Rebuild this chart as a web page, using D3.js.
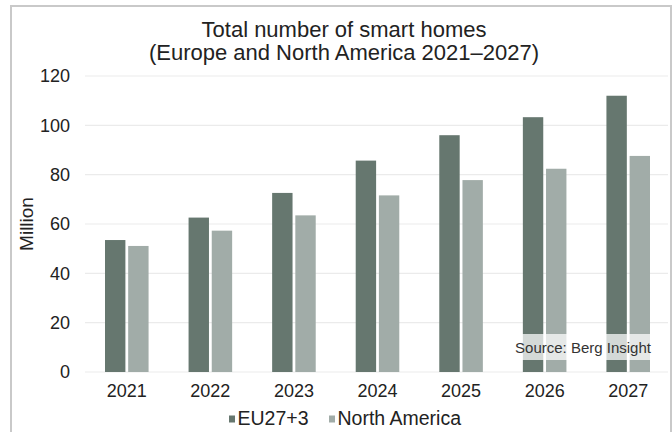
<!DOCTYPE html>
<html><head><meta charset="utf-8">
<script src="https://cdn.jsdelivr.net/npm/d3@7"></script>
<style>body{margin:0;background:#fff}svg{display:block}text{font-family:"Liberation Sans",Arial,sans-serif}</style>
</head><body><svg id="c" width="672" height="432"></svg>
<script>
const years = ["2021","2022","2023","2024","2025","2026","2027"];
const seriesNames = ["EU27+3","North America"];
const eu = [53.5, 62.6, 72.6, 85.7, 96.0, 103.3, 112.0];
const na = [51.1, 57.3, 63.5, 71.6, 77.8, 82.4, 87.6];
const yTicks = [0,20,40,60,80,100,120];
const colors = ["#66776f","#a1aca8"];

const svg = d3.select("#c");
svg.append("rect").attr("x",11).attr("y",6).attr("width",660).attr("height",440)
  .attr("fill","#fff").attr("stroke","#c9c9c9").attr("stroke-width",2);

const x = d3.scaleBand().domain(years).range([85,670]).paddingInner(0).paddingOuter(0);
const xs = d3.scaleBand().domain(seriesNames).range([20, x.bandwidth()-20]).paddingInner(0.12);
const y = d3.scaleLinear().domain([0,120]).range([372,76]);

// gridlines
svg.append("g").selectAll("line").data(yTicks).join("line")
  .attr("x1",85).attr("x2",668).attr("y1",d=>y(d)).attr("y2",d=>y(d))
  .attr("stroke","#ebebeb").attr("stroke-width",1.2);

// y axis labels
const ya = svg.append("g").attr("transform","translate(85,0)")
  .call(d3.axisLeft(y).tickValues(yTicks).tickSize(0).tickPadding(15));
ya.select(".domain").remove();
ya.selectAll("text").attr("font-size",18).attr("fill","#222").style("font-family","Liberation Sans");

// bars
const data = years.map((yr,i)=>({yr, vals:[{s:seriesNames[0],v:eu[i]},{s:seriesNames[1],v:na[i]}]}));
svg.append("g").selectAll("g").data(data).join("g")
  .attr("transform",d=>`translate(${x(d.yr)},0)`)
  .selectAll("rect").data(d=>d.vals).join("rect")
  .attr("x",d=>xs(d.s)).attr("width",xs.bandwidth())
  .attr("y",d=>y(d.v)).attr("height",d=>y(0)-y(d.v))
  .attr("fill",(d,i)=>colors[i]);

// x axis labels
const xa = svg.append("g").attr("transform","translate(0,372)")
  .call(d3.axisBottom(x).tickSize(0).tickPadding(12));
xa.select(".domain").remove();
xa.selectAll("text").attr("font-size",18).attr("fill","#222").style("font-family","Liberation Sans");

// source box
svg.append("rect").attr("x",508).attr("y",334).attr("width",152).attr("height",26)
  .attr("fill","#fff").attr("opacity",0.72);
svg.append("text").attr("x",583).attr("y",352.5).attr("text-anchor","middle")
  .attr("font-size",15).attr("fill","#333").text("Source: Berg Insight");

// title
svg.append("text").attr("x",344).attr("y",37).attr("text-anchor","middle")
  .attr("font-size",22).attr("fill","#222").text("Total number of smart homes");
svg.append("text").attr("x",344).attr("y",60).attr("text-anchor","middle")
  .attr("font-size",22).attr("fill","#222").text("(Europe and North America 2021–2027)");

// y title
svg.append("text").attr("transform","translate(33,224) rotate(-90)").attr("text-anchor","middle")
  .attr("font-size",19).attr("fill","#222").text("Million");

// legend
const leg = svg.append("g").attr("transform","translate(229,0)");
const items = [{n:seriesNames[0],c:colors[0],x:0},{n:seriesNames[1],c:colors[1],x:100}];
items.forEach(it=>{
  leg.append("rect").attr("x",it.x).attr("y",415.5).attr("width",6).attr("height",7).attr("fill",it.c);
  leg.append("text").attr("x",it.x+8.5).attr("y",425).attr("font-size",19.5).attr("fill","#222").text(it.n);
});
</script></body></html>
